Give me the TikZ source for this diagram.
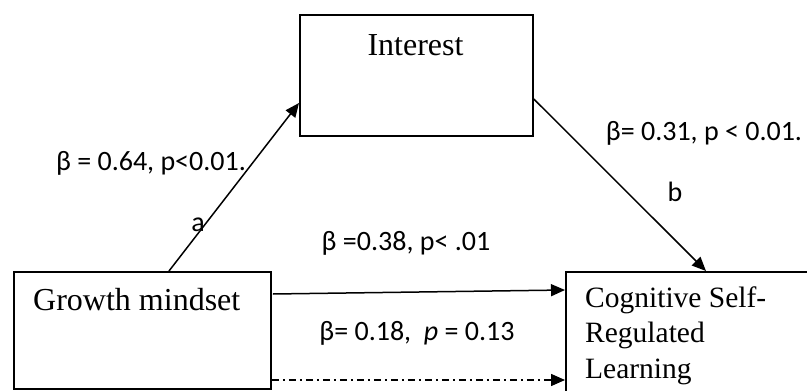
\documentclass[tikz,border=0pt]{standalone}
\usepackage{fontspec}
\setmainfont{Liberation Serif}
\newfontfamily\labfont{Carlito}
\usetikzlibrary{arrows.meta,calc}

\tikzset{
  varbox/.style={draw, line width=1.8pt, rectangle, inner sep=0pt, anchor=north west},
  boxtext/.style={inner sep=0pt, font=\fontsize{32}{38}\selectfont},
  pathlabel/.style={inner sep=0pt, font=\labfont\fontsize{28}{34}\selectfont},
  link/.style={line width=1.5pt, -{Triangle[length=14pt,width=12pt]}},
  ns link/.style={link, dash pattern=on 7pt off 4pt on 2pt off 4pt}
}

\begin{document}
\begin{tikzpicture}[x=1pt, y=-1pt]
  \useasboundingbox (0,0) rectangle (807,391);
  \clip (0,0) rectangle (807,391);

  % variable boxes
  \node[varbox, minimum width=233pt, minimum height=121pt] (int) at (299,14) {};
  \node[varbox, minimum width=257pt, minimum height=117pt] (gm) at (13,271) {};
  \node[varbox, minimum width=300pt, minimum height=160pt] (csrl) at (565,271) {};

  % box captions
  \node[boxtext, anchor=base] (intT) at (415.5,55) {Interest};
  \node[boxtext, anchor=base west] (gmT) at (33,310) {Growth mindset};
  \node[inner sep=0pt, anchor=north west, align=left,
        font=\fontsize{29.5}{35.5}\selectfont] (csrlT) at (585,286.5)
        {Cognitive Self-\\Regulated\\Learning};

  % paths
  \draw[link] ($(gm.north west)+(156,0)$) -- ($(int.north west)+(0,89)$);
  \draw[link] ($(int.north east)+(0,85)$) -- ($(csrl.north west)+(141,0)$);
  \draw[link] ($(gm.north east)+(1,23)$) -- ($(csrl.north west)+(0,19)$);
  \draw[ns link] ($(gm.north east)+(0,109)$) -- ($(csrl.north west)+(0,109)$);

  % coefficients
  \node[pathlabel] (la) at (151,163) {β = 0.64, p<0.01.};
  \node[pathlabel] (a) at (198,225) {a};
  \node[pathlabel] (lb) at (704,133) {β= 0.31, p < 0.01.};
  \node[pathlabel] (b) at (675,192) {b};
  \node[pathlabel] (lc) at (406,243) {β =0.38, p< .01};
  \node[pathlabel] (lcp) at (417,333) {β= 0.18,\ \ \textit{p} = 0.13};
\end{tikzpicture}
\end{document}
